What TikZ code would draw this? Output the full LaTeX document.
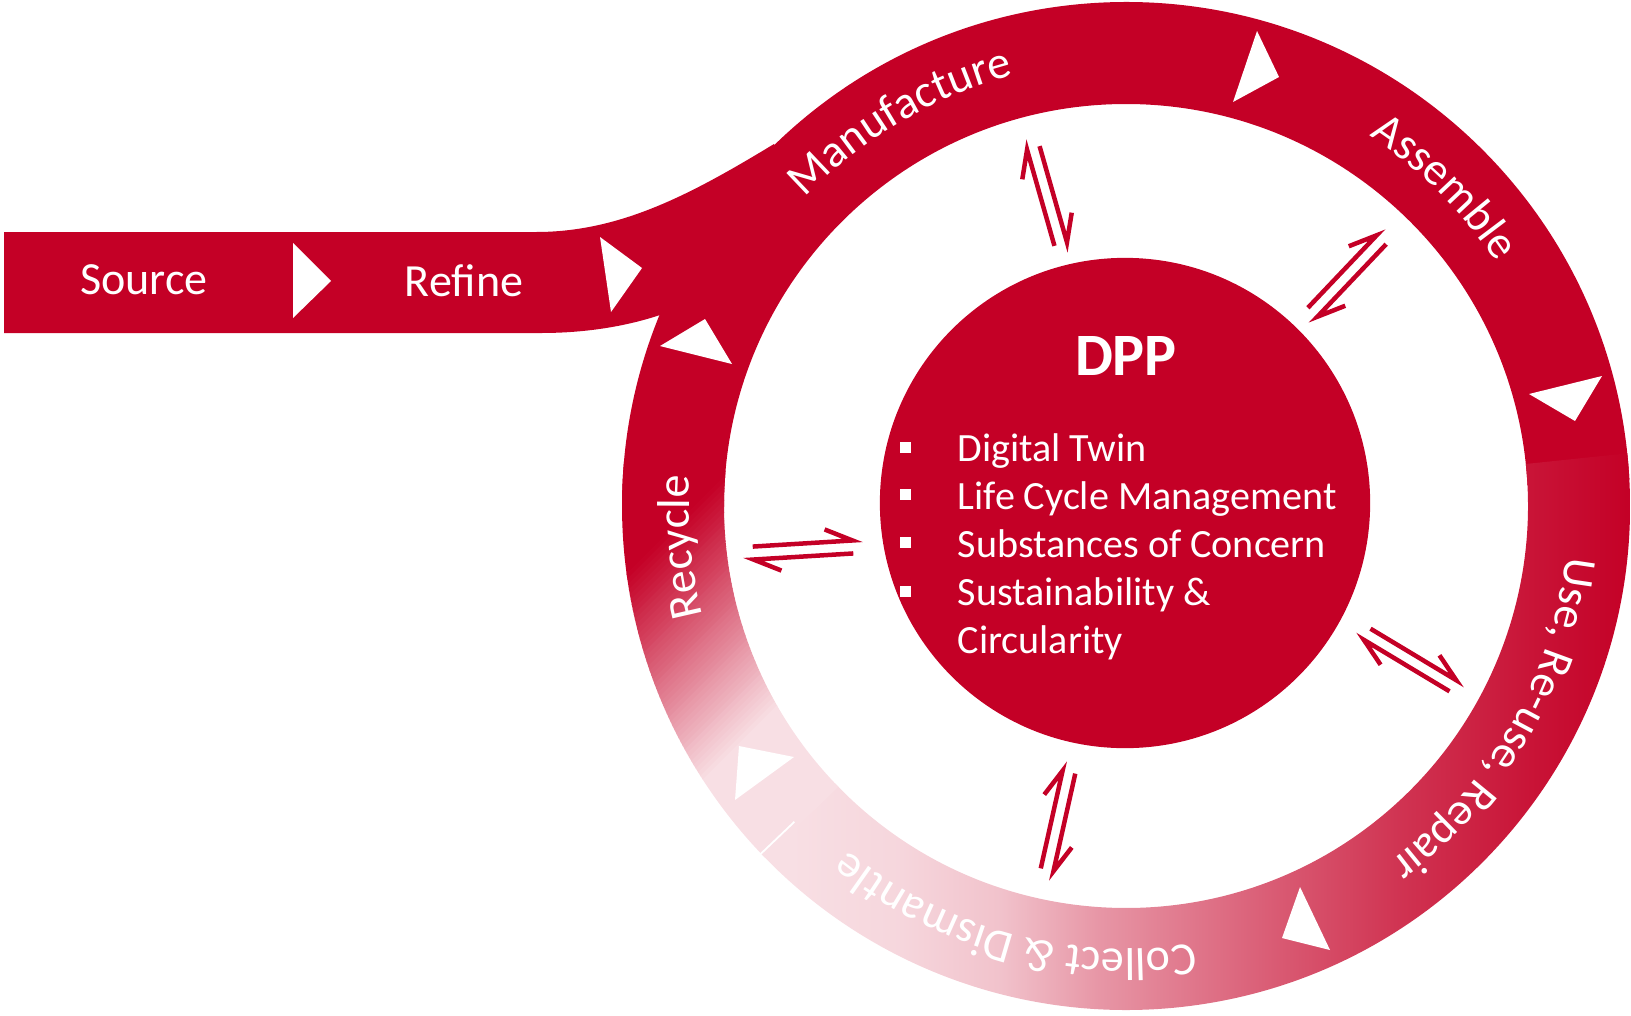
\documentclass[tikz,border=0pt]{standalone}
\usepackage{fontspec}
\setmainfont{Carlito}
\usetikzlibrary{calc,decorations.text}
\definecolor{dppred}{RGB}{196,0,38}
\definecolor{dpppale}{RGB}{248,223,228}
\pgfdeclarehorizontalshading{collectshade}{100bp}{color(0bp)=(dpppale); color(27.8bp)=(dpppale); color(34bp)=(dppred!4!dpppale); color(39.6bp)=(dppred!13!dpppale); color(45.2bp)=(dppred!33!dpppale); color(55.3bp)=(dppred!60!dpppale); color(62bp)=(dppred!77!dpppale); color(69.3bp)=(dppred!91!dpppale); color(75bp)=(dppred); color(100bp)=(dppred)}
\newcommand\ringfont{\fontsize{13.1pt}{15pt}\selectfont}
\newcommand\listfont{\fontsize{11.4pt}{13pt}\selectfont}
\tikzset{
  harp/.style={draw=dppred, line width=0.045cm, line cap=butt, line join=miter},
  harpoons/.pic={
    \draw[harp] (22.8,19.2) -- (50,6.5) -- (-50,6.5);
    \draw[harp] (-22.8,-19.2) -- (-50,-6.5) -- (50,-6.5);
  },
  ringlabel/.style={decorate, decoration={text along path, text align=center, text color=white}},
  bandtext/.style={font=\ringfont, text=white, anchor=base, inner sep=0pt},
  listtext/.style={font=\listfont, text=white, anchor=base west, inner sep=0pt},
  arrowtri/.style={fill=white},
  bulletsq/.style={fill=white}
}
\begin{document}
\begin{tikzpicture}[x=0.01cm,y=0.01cm]
\useasboundingbox (0,0) rectangle (1631,-1015);
\coordinate (C) at (1126,-506);

% solid part of ring (slightly under the gradient segments)
\fill[dppred] ($(C)+(3:504)$) arc[start angle=3,end angle=180,radius=504]
  -- ($(C)+(180:402)$) arc[start angle=180,end angle=3,radius=402] -- cycle;

% band
\fill[dppred] (4,-232) -- (536,-232) .. controls (620,-232) and (690,-195) .. (774,-144)
  -- (800,-190) -- (700,-330) -- (660,-315) .. controls (630,-325) and (590,-333) .. (541,-333)
  -- (4,-333) -- cycle;

% collect segment (horizontal gradient)
\begin{scope}
\clip ($(C)+(6:504)$) arc[start angle=6,end angle=-136.4,radius=504]
  -- ($(C)+(-136.4:402)$) arc[start angle=-136.4,end angle=6,radius=402] -- cycle;
\shade[shading=collectshade] (740,-380) rectangle (1632,-1015);
\end{scope}

% recycle segment (diagonal gradient)
\begin{scope}
\clip ($(C)+(175:504)$) arc[start angle=175,end angle=224.3,radius=504]
  -- ($(C)+(224.3:402)$) arc[start angle=224.3,end angle=175,radius=402] -- cycle;
\fill[dppred] (560,-643) -- (900,-303) -- (900,0) -- (560,0) -- cycle;
\foreach \i in {0,...,46} {
  \pgfmathtruncatemacro\s{1200+6*\i}
  \pgfmathtruncatemacro\f{100*(\i+0.5)/47}
  \fill[dpppale!\f!dppred] (560,560-\s) -- (900,900-\s) -- (900,893-\s) -- (560,553-\s) -- cycle;
}
\fill[dpppale] (560,-922) -- (900,-582) -- (900,-1100) -- (560,-1100) -- cycle;
\end{scope}

% thin white separator
\draw[white, line width=0.018cm] ($(C)+(223.6:458)$) -- ($(C)+(223.6:505)$);

% centre circle
\node[circle, fill=dppred, minimum size=4.9cm, inner sep=0pt] (dpp) at (1125,-503) {};

% white arrow triangles
\fill[arrowtri] (293,-243) -- (293,-318) -- (331,-281) -- cycle;
\fill[arrowtri] (600,-237) -- (611,-312) -- (642,-268) -- cycle;
\fill[arrowtri] (660,-346) -- (705,-319) -- (732,-364) -- cycle;
\fill[arrowtri] (1257,-31) -- (1233,-102) -- (1279,-77) -- cycle;
\fill[arrowtri] (1529,-394) -- (1602,-376) -- (1575,-421) -- cycle;
\fill[arrowtri] (1300,-887) -- (1282,-938) -- (1330,-950) -- cycle;
\fill[arrowtri] (739,-746) -- (794,-757) -- (735,-800) -- cycle;

% harpoon pairs
\pic[rotate=105.9] at (1047,-196) {harpoons};
\pic[rotate=46.5] at (1347,-276) {harpoons};
\pic[rotate=183.5] at (803,-550) {harpoons};
\pic[rotate=-31] at (1410,-660) {harpoons};
\pic[rotate=-102.6] at (1058,-821) {harpoons};

% band texts
\node[bandtext] (source) at (144,-294) {Source};
\node[bandtext] (refine) at (464,-296) {Refine};

% DPP text
\node[font=\bfseries\fontsize{17.1pt}{20pt}\selectfont, text=white, anchor=base, inner sep=0pt] (dpptitle) at (1126,-375) {DPP};
\fill[bulletsq] (900,-441.5) rectangle (911,-452.5);
\fill[bulletsq] (900,-488.5) rectangle (911,-499.5);
\fill[bulletsq] (900,-536.5) rectangle (911,-547.5);
\fill[bulletsq] (900,-585.5) rectangle (911,-596.5);
\node[listtext] (l1) at (957,-461) {Digital Twin};
\node[listtext] (l2) at (957,-509) {Life Cycle Management};
\node[listtext] (l3) at (957,-557) {Substances of Concern};
\node[listtext] (l4) at (957,-605) {Sustainability \&};
\node[listtext] (l5) at (957,-653) {Circularity};

% ring labels
\path[ringlabel, decoration={text={|\ringfont|Manufacture}}] ($(C)+(160.4:445)$) arc[start angle=160.4,end angle=80.4,radius=445];
\path[ringlabel, decoration={text={|\ringfont|Assemble}}] ($(C)+(85:443)$) arc[start angle=85,end angle=5,radius=443];
\path[ringlabel, decoration={text={|\ringfont|Use, Re-use, Repair}}] ($(C)+(10:443)$) arc[start angle=10,end angle=-70,radius=443];
\path[ringlabel, decoration={text={|\ringfont|Collect {\&} Dismantle}}] ($(C)+(-65:443)$) arc[start angle=-65,end angle=-145,radius=443];
\path[ringlabel, decoration={text={|\ringfont|Recycle}}] ($(C)+(225.3:437)$) arc[start angle=225.3,end angle=145.3,radius=437];
\end{tikzpicture}
\end{document}
